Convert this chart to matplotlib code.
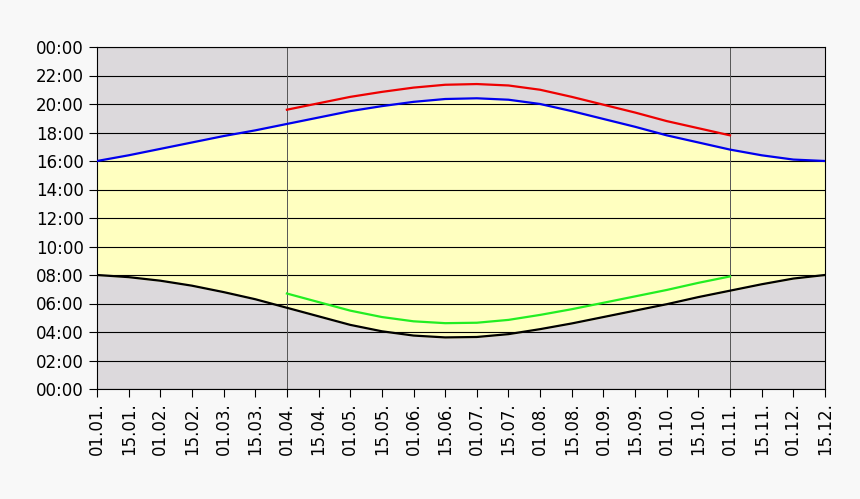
import matplotlib
matplotlib.use('Agg')
import matplotlib.pyplot as plt

dates = ['01.01.', '15.01.', '01.02.', '15.02.', '01.03.', '15.03.', '01.04.', '15.04.',
         '01.05.', '15.05.', '01.06.', '15.06.', '01.07.', '15.07.', '01.08.', '15.08.',
         '01.09.', '15.09.', '01.10.', '15.10.', '01.11.', '15.11.', '01.12.', '15.12.']
sunset = [16.0, 16.4, 16.85, 17.3, 17.75, 18.15, 18.6, 19.05, 19.5, 19.85, 20.15, 20.35,
          20.4, 20.3, 20.0, 19.5, 18.95, 18.4, 17.8, 17.3, 16.8, 16.4, 16.1, 16.0]
sunrise = [8.0, 7.85, 7.6, 7.25, 6.8, 6.3, 5.7, 5.1, 4.5, 4.05, 3.75, 3.62,
           3.65, 3.85, 4.2, 4.6, 5.05, 5.5, 5.95, 6.45, 6.9, 7.35, 7.75, 8.0]
dst_start, dst_end = 6, 20  # 01.04. .. 01.11.
hour_labels = ['00:00', '02:00', '04:00', '06:00', '08:00', '10:00', '12:00',
               '14:00', '16:00', '18:00', '20:00', '22:00', '00:00']

x = list(range(len(dates)))
xd = x[dst_start:dst_end + 1]
sunset_dst = [v + 1 for v in sunset[dst_start:dst_end + 1]]
sunrise_dst = [v + 1 for v in sunrise[dst_start:dst_end + 1]]

fig = plt.figure(figsize=(8.6, 4.99), dpi=100, facecolor='#f8f8f8')
ax = fig.add_axes([97/860, 110/499, 728/860, 342/499])
ax.set_facecolor('#dcd9dc')

ax.fill_between(x, sunrise, sunset, color='#ffffc0', zorder=1)
for h in range(0, 25, 2):
    ax.axhline(h, color='black', lw=0.8, zorder=2)
for i in (dst_start, dst_end):
    ax.axvline(i, color='#555555', lw=0.7, zorder=2)

ax.plot(x, sunset, color='#0000ee', lw=1.6, zorder=4)
ax.plot(x, sunrise, color='black', lw=1.6, zorder=4)
ax.plot(xd, sunset_dst, color='#ee0000', lw=1.6, zorder=3)
ax.plot(xd, sunrise_dst, color='#22ee22', lw=1.6, zorder=3)

ax.set_xlim(0, len(dates) - 1)
ax.set_ylim(0, 24)
ax.set_xticks(x)
ax.set_xticklabels(dates, rotation=90, fontsize=12)
ax.set_yticks(range(0, 25, 2))
ax.set_yticklabels(hour_labels, fontsize=12)
ax.tick_params(direction='out', length=6, width=0.8)
for s in ax.spines.values():
    s.set_linewidth(0.8)

plt.savefig('out.png', dpi=100, facecolor=fig.get_facecolor())
